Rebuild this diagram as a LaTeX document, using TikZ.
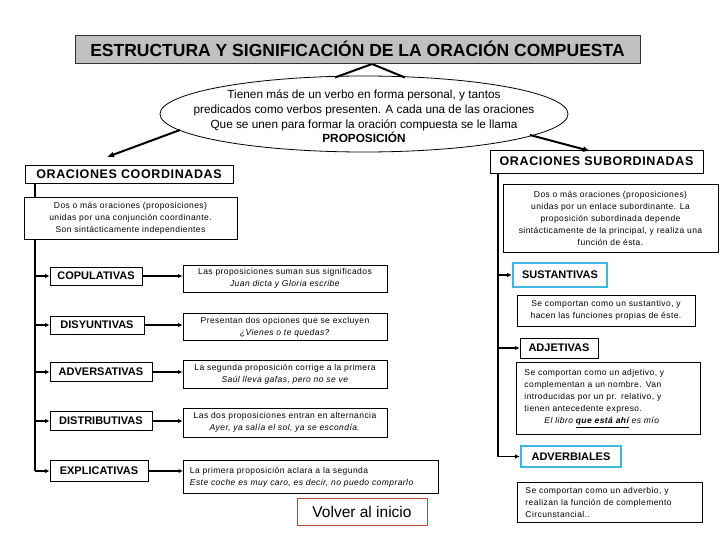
\documentclass[tikz,border=0pt]{standalone}
\usepackage{fontspec}
\setmainfont{Liberation Sans}
\newfontfamily\spc[LetterSpace=5]{Liberation Sans}
\usetikzlibrary{shapes.geometric,arrows.meta,backgrounds}
\definecolor{titlegray}{RGB}{192,192,192}
\definecolor{cyanb}{RGB}{64,184,222}
\definecolor{volred}{RGB}{192,64,64}
\begin{document}
\begin{tikzpicture}[x=1pt,y=-1pt,
 box/.style={draw=black,line width=0.9pt,fill=white,inner sep=0pt},
 lab/.style={box,font=\fontsize{11}{13}\selectfont\bfseries},
 cyanlab/.style={lab,draw=cyanb,line width=2.6pt},
 desc/.style={box,font=\spc\fontsize{8.5}{12}\selectfont,align=center},
 ldesc/.style={desc,align=left,anchor=north west,inner ysep=5pt},
 conn/.style={line width=1.3pt},
 arr/.style={conn,-{Latex[length=4.5pt,width=4.5pt]}},
 bigarr/.style={line width=2pt,-{Latex[length=7pt,width=6pt]}}
]
\useasboundingbox (0,0) rectangle (720,540);
% title
\node[box,fill=titlegray,draw=black!80,minimum width=565pt,minimum height=28pt,
  font=\fontsize{17.5}{19}\selectfont\bfseries] (title) at (357.5,49)
  {ESTRUCTURA Y SIGNIFICACIÓN DE LA ORACIÓN COMPUESTA};
% ellipse
\node[ellipse,draw=black,line width=0.8pt,minimum width=408pt,minimum height=76pt,inner sep=0pt]
  (ell) at (364,114) {};
\node[align=center,inner sep=0pt,font=\fontsize{11.8}{14.6}\selectfont] (elltext) at (364,116.5)
  {Tienen más de un verbo en forma personal, y tantos\\
   predicados como verbos presenten. A cada una de las oraciones\\
   Que se unen para formar la oración compuesta se le llama\\
   \textbf{PROPOSICIÓN}};
% coordinadas
\node[box,minimum width=208pt,minimum height=18pt,font=\spc\fontsize{12.5}{14}\selectfont\bfseries]
  (coord) at (129,174) {ORACIONES COORDINADAS};
\node[desc,minimum width=213pt,minimum height=42pt] (cdesc) at (130.5,218)
  {Dos o más oraciones (proposiciones)\\unidas por una conjunción coordinante.\\Son sintácticamente independientes};
% left labels
\node[lab,minimum width=92pt,minimum height=18pt] (cop) at (96,276) {COPULATIVAS};
\node[lab,minimum width=94pt,minimum height=18pt] (dis) at (97,325) {DISYUNTIVAS};
\node[lab,minimum width=102pt,minimum height=19pt] (adv) at (101,372) {ADVERSATIVAS};
\node[lab,minimum width=102pt,minimum height=19pt] (dst) at (101,421) {DISTRIBUTIVAS};
\node[lab,minimum width=98pt,minimum height=21pt] (exp) at (99,471) {EXPLICATIVAS};
% left descriptions
\node[desc,minimum width=204pt,minimum height=27pt] (copd) at (285,278.5)
  {Las proposiciones suman sus significados\\\textit{Juan dicta y Gloria escribe}};
\node[desc,minimum width=204pt,minimum height=27pt] (disd) at (285,327)
  {Presentan dos opciones que se excluyen\\\textit{¿Vienes o te quedas?}};
\node[desc,minimum width=204pt,minimum height=28pt] (advd) at (285,374)
  {La segunda proposición corrige a la primera\\\textit{Saúl lleva gafas, pero no se ve}};
\node[desc,minimum width=204pt,minimum height=29pt] (dstd) at (285,422.5)
  {Las dos proposiciones entran en alternancia\\\textit{Ayer, ya salía el sol, ya se escondía.}};
\node[ldesc,text width=242pt,inner xsep=6.5pt,minimum height=33pt] (expd) at (183,460)
  {La primera proposición aclara a la segunda\\\textit{Este coche es muy caro, es decir, no puedo comprarlo}};
% volver
\node[box,draw=volred,line width=0.8pt,minimum width=130pt,minimum height=27pt,
  font=\fontsize{15.5}{17}\selectfont] (volver) at (362,511.5) {Volver al inicio};
% subordinadas
\node[box,minimum width=213pt,minimum height=23pt,font=\spc\fontsize{12.5}{14}\selectfont\bfseries]
  (sub) at (596.5,161.5) {ORACIONES SUBORDINADAS};
\node[desc,minimum width=215pt,minimum height=68pt] (sdesc) at (610.5,218)
  {Dos o más oraciones (proposiciones)\\unidas por un enlace subordinante. La\\proposición subordinada depende\\sintácticamente de la principal, y realiza una\\función de ésta.};
\node[cyanlab,minimum width=94pt,minimum height=24pt] (sus) at (560,275) {SUSTANTIVAS};
\node[desc,minimum width=178pt,minimum height=31pt] (susd) at (606,310.5)
  {Se comportan como un sustantivo, y\\hacen las funciones propias de éste.};
\node[lab,minimum width=78pt,minimum height=20pt] (adj) at (559,348) {ADJETIVAS};
\node[ldesc,text width=168pt,inner xsep=8pt,minimum height=72pt] (adjd) at (516,362)
  {Se comportan como un adjetivo, y\\complementan a un nombre. Van\\introducidas por un pr. relativo, y\\tienen antecedente expreso.\\
   \hspace*{20pt}\textit{El libro \underline{\textbf{que está ahí}} es mío}};
\node[cyanlab,minimum width=100pt,minimum height=21pt] (avb) at (571,456.5) {ADVERBIALES};
\node[ldesc,text width=169pt,inner xsep=8pt,minimum height=40pt] (avbd) at (517,482)
  {Se comportan como un adverbio, y\\realizan la función de complemento\\Circunstancial..};
% connectors
\coordinate (pk) at (372,64);
\coordinate (fl) at (335,77.5);
\coordinate (fr) at (405,77.5);
\coordinate (la) at (180,130);
\coordinate (lt) at (107,157);
\coordinate (ra) at (530,135);
\coordinate (rt) at (590,151);
\coordinate (lcorner) at (35,471);
\coordinate (rcorner) at (498,456.5);
\begin{scope}[on background layer]
\draw[line width=2pt] (fl) -- (pk) -- (fr);
\draw[conn] (coord.south -| lcorner) -- (lcorner);
\draw[conn] (sub.south -| rcorner) -- (rcorner);
\end{scope}
\draw[bigarr] (la) -- (lt);
\draw[bigarr] (ra) -- (rt);
\foreach \n in {cop,dis,adv,dst} {
  \draw[arr] (\n.west -| lcorner) -- (\n.west);
  \draw[arr] (\n.east) -- (\n.east -| copd.west);
}
\draw[arr] (lcorner) -- (exp.west);
\draw[arr] (exp.east) -- (exp.east -| expd.west);
\draw[arr] (sus.west -| rcorner) -- (sus.west);
\draw[arr] (adj.west -| rcorner) -- (adj.west);
\draw[arr] (rcorner) -- (avb.west);
\end{tikzpicture}
\end{document}
